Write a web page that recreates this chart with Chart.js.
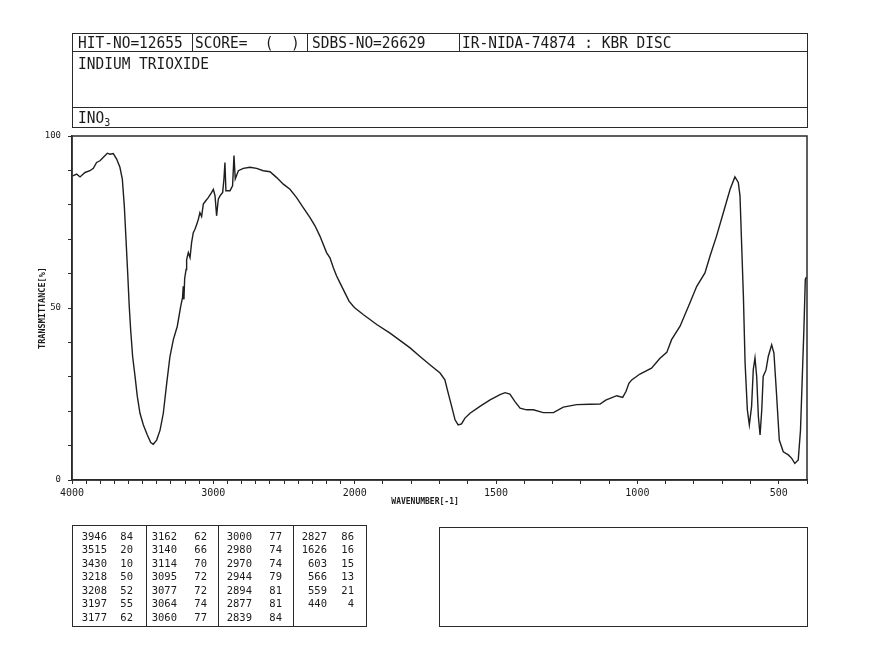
<!DOCTYPE html>
<html>
<head>
<meta charset="utf-8">
<title>INDIUM TRIOXIDE - IR spectrum</title>
<script src="https://cdn.jsdelivr.net/npm/chart.js@4"></script>
<style>
  html, body { margin: 0; padding: 0; background: #fff; }
  body { position: relative; width: 892px; height: 672px; overflow: hidden; }
  #spectrum { position: absolute; left: 0; top: 0; }
  .box { position: absolute; box-sizing: border-box; border: 1px solid #2a2a2a; }
  .hl { position: absolute; height: 1px; background: #2a2a2a; }
  .vl { position: absolute; width: 1px; background: #2a2a2a; }
  .hd { position: absolute; font-family: "DejaVu Sans Mono", monospace; font-size: 14.5px; line-height: 14.5px;
        color: #1a1a1a; white-space: pre; transform: scaleY(1.12); transform-origin: left center; }
  .hd sub { font-size: 10px; vertical-align: -3px; line-height: 0; }
  .pk { position: absolute; width: 40px; text-align: right; font-family: "DejaVu Sans Mono", monospace;
        font-size: 10.5px; line-height: 12px; color: #1a1a1a; }
</style>
</head>
<body>
<canvas id="spectrum" width="892" height="672"></canvas>

<!-- header block -->
<div class="box" style="left:72px;top:33px;width:736px;height:95px"></div>
<div class="hl" style="left:72px;top:51px;width:736px"></div>
<div class="hl" style="left:72px;top:107px;width:736px"></div>
<div class="vl" style="left:192px;top:33px;height:18px"></div>
<div class="vl" style="left:307px;top:33px;height:18px"></div>
<div class="vl" style="left:459px;top:33px;height:18px"></div>
<div class="hd" style="left:78px;top:35px">HIT-NO=12655</div>
<div class="hd" style="left:195px;top:35px">SCORE=  (  )</div>
<div class="hd" style="left:312px;top:35px">SDBS-NO=26629</div>
<div class="hd" style="left:462px;top:35px">IR-NIDA-74874 : KBR DISC</div>
<div class="hd" style="left:78px;top:56px">INDIUM TRIOXIDE</div>
<div class="hd" style="left:78px;top:110px">INO<sub>3</sub></div>

<!-- peak table + empty box -->
<div class="box" style="left:72px;top:525px;width:295px;height:102px"></div>
<div class="vl" style="left:146px;top:525px;height:102px"></div>
<div class="vl" style="left:218px;top:525px;height:102px"></div>
<div class="vl" style="left:293px;top:525px;height:102px"></div>
<div class="box" style="left:439px;top:527px;width:369px;height:100px"></div>
<div id="peaks"></div>

<script>
// spectrum (wavenumber in cm-1, transmittance in %)
const wavenumbers = [
  3995, 3967, 3943, 3908, 3873, 3849, 3826, 3802, 3778, 3750, 3731, 3708, 3684, 3661, 3644,
  3630, 3618, 3606, 3595, 3585, 3571, 3554, 3538, 3519, 3495, 3467, 3443, 3425, 3401, 3377,
  3354, 3330, 3307, 3283, 3255, 3231, 3218, 3213, 3208, 3203, 3193, 3189, 3177, 3165, 3154,
  3142, 3130, 3118, 3106, 3095, 3083, 3071, 3055, 3036, 3012, 3000, 2988, 2977, 2965, 2953,
  2934, 2925, 2918, 2911, 2882, 2864, 2854, 2845, 2823, 2788, 2741, 2694, 2647, 2599, 2552,
  2505, 2458, 2411, 2364, 2316, 2281, 2246, 2199, 2175, 2151, 2128, 2104, 2069, 2040, 2010,
  1999, 1970, 1922, 1875, 1804, 1769, 1734, 1698, 1681, 1669, 1657, 1645, 1634, 1622, 1610,
  1592, 1557, 1521, 1486, 1468, 1451, 1433, 1415, 1392, 1368, 1333, 1297, 1262, 1215, 1168,
  1132, 1112, 1073, 1052, 1040, 1030, 1020, 991, 950, 920, 896, 879, 849, 814, 790,
  761, 743, 720, 696, 672, 655, 643, 637, 631, 625, 619, 611, 604, 596, 590,
  584, 578, 572, 566, 560, 555, 545, 537, 525, 517, 508, 498, 484, 466, 454,
  443, 431, 423, 415, 411, 406, 402
];
const transmittance = [
  88.4, 88.9, 88.1, 89.4, 89.9, 90.6, 92.3, 92.8, 93.8, 95.0, 94.7, 94.9, 93.3, 90.9, 87.5,
  79.7, 70.0, 60.2, 50.5, 43.7, 35.9, 30.1, 24.3, 19.4, 16.0, 13.1, 10.9, 10.4, 11.6, 14.5,
  19.4, 28.1, 35.9, 40.8, 44.7, 50.5, 53.0, 56.3, 52.5, 58.5, 61.2, 64.1, 66.1, 64.6, 69.0,
  71.9, 72.9, 74.3, 75.8, 77.7, 76.6, 80.2, 81.1, 82.1, 83.6, 84.5, 82.6, 76.8, 81.6, 82.6,
  83.6, 87.5, 92.3, 84.1, 84.1, 85.5, 94.3, 87.5, 89.9, 90.6, 90.9, 90.6, 89.9, 89.6, 87.9,
  86.0, 84.5, 82.1, 79.2, 76.3, 73.9, 70.9, 66.1, 64.6, 61.7, 59.3, 57.3, 54.4, 52.0, 50.5,
  50.0, 48.1, 45.2, 42.7, 38.4, 35.9, 33.5, 31.1, 29.1, 25.2, 21.4, 17.5, 16.0, 16.3, 18.0,
  19.4, 21.4, 23.3, 24.8, 25.4, 25.0, 22.8, 20.9, 20.4, 20.4, 19.6, 19.6, 21.2, 21.9, 22.0,
  22.1, 23.2, 24.5, 24.0, 25.8, 28.1, 29.1, 30.8, 32.5, 35.4, 37.1, 40.8, 44.7, 51.5, 56.3,
  60.2, 65.1, 70.9, 77.7, 84.5, 88.1, 86.5, 82.6, 68.0, 53.4, 34.0, 20.4, 16.0, 21.4, 32.1,
  35.5, 30.1, 18.4, 13.1, 20.4, 30.1, 32.0, 35.9, 39.3, 36.9, 25.3, 11.6, 8.2, 7.3, 6.3,
  4.8, 5.8, 14.5, 34.0, 43.7, 58.3, 59.0
];

// peak list printed under the plot
const peakWn = [3946, 3515, 3430, 3218, 3208, 3197, 3177,
                3162, 3140, 3114, 3095, 3077, 3064, 3060,
                3000, 2980, 2970, 2944, 2894, 2877, 2839,
                2827, 1626, 603, 566, 559, 440];
const peakT = [84, 20, 10, 50, 52, 55, 62,
               62, 66, 70, 72, 72, 74, 77,
               77, 74, 74, 79, 81, 81, 84,
               86, 16, 15, 13, 21, 4];

const xTickLabels = [4000, 3000, 2000, 1500, 1000, 500];
const yTickLabels = [0, 50, 100];

// peak table
const wnRight = [107, 177, 252, 327];
const tRight = [133, 207, 282, 354];
let html = '';
peakWn.forEach((w, i) => {
  const col = Math.floor(i / 7), row = i % 7;
  const top = 530 + row * 13.45;
  html += `<div class="pk" style="left:${wnRight[col] - 40}px;top:${top}px">${w}</div>`;
  html += `<div class="pk" style="left:${tRight[col] - 40}px;top:${top}px">${peakT[i]}</div>`;
});
document.getElementById('peaks').innerHTML = html;

// IR axis: 4000-2000 at half the scale of 2000-400
function toU(wn) { return wn >= 2000 ? (4000 - wn) / 2 : 1000 + (2000 - wn); }
function fromU(u) { return u <= 1000 ? 4000 - 2 * u : 3000 - u; }

class IRScale extends Chart.LinearScale {
  buildTicks() {
    const ticks = [];
    for (let v = this.max; v >= this.min; v -= 100) ticks.push({ value: v });
    return ticks;
  }
  getPixelForValue(v) {
    const u0 = toU(this.max), u1 = toU(this.min);
    return this.getPixelForDecimal((toU(v) - u0) / (u1 - u0));
  }
  getValueForPixel(p) {
    const u0 = toU(this.max), u1 = toU(this.min);
    return fromU(u0 + this.getDecimalForPixel(p) * (u1 - u0));
  }
}
IRScale.id = 'irscale';
IRScale.defaults = {};
Chart.register(IRScale);

const frame = {
  id: 'frame',
  afterDraw(chart) {
    const { ctx, chartArea: a } = chart;
    ctx.save();
    ctx.strokeStyle = '#2a2a2a';
    ctx.lineWidth = 1.5;
    ctx.strokeRect(a.left, a.top, a.right - a.left, a.bottom - a.top);
    ctx.restore();
  }
};

const mono = 'DejaVu Sans Mono';

new Chart(document.getElementById('spectrum'), {
  type: 'line',
  data: {
    datasets: [{
      data: wavenumbers.map((w, i) => ({ x: w, y: transmittance[i] })),
      borderColor: '#1e1e1e',
      borderWidth: 1.4,
      pointRadius: 0,
      tension: 0,
      fill: false
    }]
  },
  options: {
    responsive: false,
    animation: false,
    devicePixelRatio: 1,
    layout: { padding: { left: 0, top: 136, right: 85, bottom: 152 } },
    plugins: { legend: { display: false }, tooltip: { enabled: false } },
    scales: {
      x: {
        type: 'irscale',
        position: 'bottom',
        min: 400,
        max: 4000,
        afterFit(s) { s.height = 40; },
        grid: { drawOnChartArea: false, drawTicks: true, tickLength: 4, color: '#2a2a2a' },
        border: { display: true, color: '#2a2a2a', width: 1.5 },
        ticks: {
          autoSkip: false, maxRotation: 0, minRotation: 0, padding: 3,
          color: '#1a1a1a', font: { family: mono, size: 10 },
          callback: v => xTickLabels.includes(v) ? String(v) : ''
        },
        title: {
          display: true, text: 'WAVENUMBER[-1]      ', color: '#1a1a1a',
          font: { family: mono, size: 8, weight: 'bold' },
          padding: { top: 0, bottom: 13 }
        }
      },
      y: {
        type: 'linear',
        min: 0,
        max: 100,
        afterFit(s) { s.width = 72; },
        grid: { drawOnChartArea: false, drawTicks: true, tickLength: 4, color: '#2a2a2a' },
        border: { display: true, color: '#2a2a2a', width: 1.5 },
        ticks: {
          stepSize: 10, autoSkip: false, padding: 7,
          color: '#1a1a1a', font: { family: mono, size: 9 },
          callback: v => yTickLabels.includes(v) ? String(v) : ''
        },
        title: {
          display: true, text: 'TRANSMITTANCE[%]', color: '#1a1a1a',
          font: { family: mono, size: 8.5, weight: 'bold' },
          padding: { top: 38, bottom: 0 }
        }
      }
    }
  },
  plugins: [frame]
});
</script>
</body>
</html>
